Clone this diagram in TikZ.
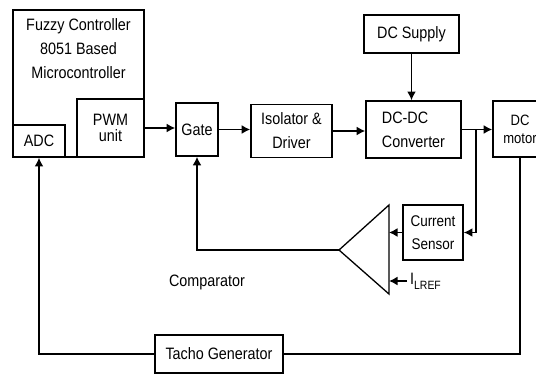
\documentclass[tikz,border=0pt]{standalone}
\usepackage{fontspec}
\setmainfont{Liberation Sans}[FakeStretch=0.87]
\usepackage{tikz}
\usetikzlibrary{arrows.meta,positioning,calc}

\begin{document}
\begin{tikzpicture}[x=1pt, y=-1pt,
  block/.style={draw, line width=1.6pt, inner sep=0pt, align=center,
    font=\fontsize{16.5}{24}\selectfont},
  flow/.style={-{Latex[length=8.5pt, width=9pt]}, line width=1.6pt},
  wire/.style={line width=1.1pt},
  thinflow/.style={wire, -{Latex[length=8.5pt, width=8.5pt]}}
]
\useasboundingbox (0,0) rectangle (536,375);
\clip (0,0) rectangle (536,375);

% Controller block with its two units.
\node[block, minimum width=131, minimum height=147] (mcu) at (78.5,83.5) {};
\node[align=center, font=\fontsize{16.5}{24}\selectfont] (mcutext) at (78.5,49)
  {Fuzzy Controller\\8051 Based\\Microcontroller};
\node[block, minimum width=52, minimum height=32] (adc) at (39,141) {ADC};
\node[block, minimum width=67, minimum height=58,
  font=\fontsize{16.5}{16}\selectfont] (pwm) at (110.5,128) {PWM\\unit};

% Forward path.
\node[block, minimum width=42, minimum height=53] (gate) at (197,129.5) {Gate};
\node[block, minimum width=81, minimum height=53] (iso) at (291.5,131) {Isolator \&\\Driver};
\node[block, minimum width=95, minimum height=38] (dcsup) at (411.5,34) {DC Supply};
\node[block, minimum width=95, minimum height=57, align=left] (dcdc) at (413.5,129.5) {DC-DC\\Converter};
\node[block, minimum width=54, minimum height=56,
  font=\fontsize{15}{18}\selectfont] (motor) at (520,129) {DC\\motor};

\draw[flow] (pwm) -- (pwm -| gate.west);
\draw[flow] (gate) -- (gate -| iso.west);
\draw[flow] (iso) -- (iso -| dcdc.west);
\draw[flow] (dcdc) -- (dcdc -| motor.west);
\draw[thinflow] (dcsup) -- (dcsup |- dcdc.north);

% Current loop.
\node[block, minimum width=60, minimum height=55,
  font=\fontsize{15.5}{23}\selectfont] (cs) at (433,232.5) {Current\\Sensor};
\coordinate (cmpTop) at (389,205);
\coordinate (cmpBot) at (389,294);
\coordinate (cmpOut) at (339,250);
\draw[line width=1.3pt] (cmpTop) -- (cmpBot) -- (cmpOut) -- cycle;
\node[font=\fontsize{16.5}{20}\selectfont] (cmplabel) at (207,282) {Comparator};
\node[anchor=west, inner sep=0pt, font=\fontsize{16.5}{20}\selectfont] (iref) at (410,281)
  {I\raisebox{-5pt}{\fontsize{12}{12}\selectfont LREF}};

\coordinate (tap) at (476,129.5);
\draw[thinflow] (tap) |- (cs.east);
\draw[flow] (cs) -- (cs -| cmpTop);
\draw[flow] ([xshift=-3pt]iref.west) -- (iref.west -| cmpTop);
\draw[flow] (cmpOut) -| (gate.south);

% Speed loop.
\node[block, minimum width=128, minimum height=38] (tacho) at (219,354) {Tacho Generator};
\draw[wire] (motor.south) |- (tacho.east);
\draw[wire, -{Latex[length=8.5pt, width=8.5pt]}] (tacho.west) -| (adc.south);

\end{tikzpicture}
\end{document}
